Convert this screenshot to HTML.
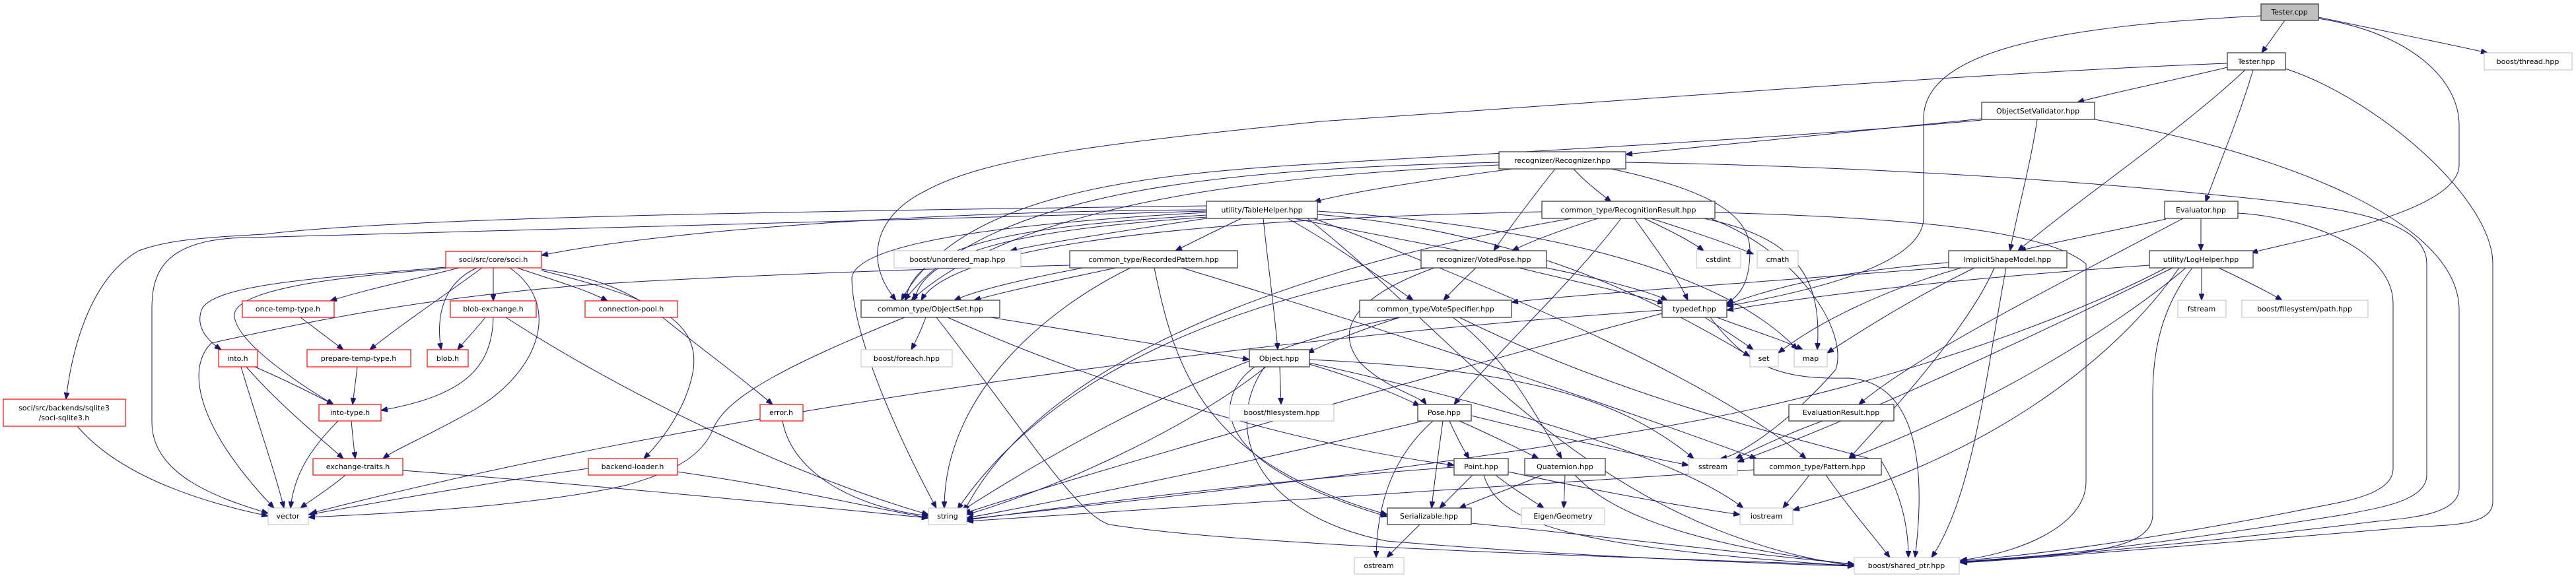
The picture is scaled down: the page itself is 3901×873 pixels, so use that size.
<!DOCTYPE html>
<html><head><meta charset="utf-8"><style>
html,body{margin:0;padding:0;background:#fff;}
svg{display:block;}
text{font-family:"DejaVu Sans","Liberation Sans",sans-serif;font-size:11px;fill:#000;text-anchor:middle;}
.e{fill:none;stroke:#191970;stroke-width:1;marker-end:url(#a);}
.k{fill:#fff;stroke:#404040;stroke-width:1.3;}
.r{fill:#fff;stroke:#ff0000;stroke-width:1.2;}
.g{fill:#fff;stroke:#bfbfbf;stroke-width:1;}
</style></head><body>
<svg width="3901" height="873" viewBox="0 0 3901 873" xmlns="http://www.w3.org/2000/svg">
<defs><marker id="a" markerUnits="userSpaceOnUse" markerWidth="11" markerHeight="8" refX="10" refY="4" orient="auto"><path d="M0,0 L10,4 L0,8 z" fill="#191970" stroke="#191970"/></marker></defs>
<g>
<path class="e" d="M3460,31 L3425,80"/>
<path class="e" d="M3511,26 C3600,45 3700,65 3767,80"/>
<path class="e" d="M3424,24 C3100,40 2913,80 2913,180 L2913,330 C2913,400 2750,440 2615,464"/>
<path class="e" d="M3511,28 C3650,50 3724,120 3724,190 L3724,250 C3724,320 3500,360 3409,383"/>
<path class="e" d="M3373,96 C3000,110 2500,150 2000,184 C1700,215 1500,235 1400,290 C1320,330 1310,400 1357,455"/>
<path class="e" d="M3373,102 C3300,120 3200,140 3146,155"/>
<path class="e" d="M3400,106 C3300,200 3150,300 3056,380"/>
<path class="e" d="M3412,106 C3390,180 3360,250 3340,306"/>
<path class="e" d="M3461,104 C3600,150 3775,300 3775,400 L3775,760 C3775,800 3700,795 3640,800 C3400,820 3100,845 2969,853"/>
<path class="e" d="M3172,181 C3400,220 3724,320 3724,470 L3724,740 C3724,780 3650,785 3600,790 C3400,815 3100,845 2969,852"/>
<path class="e" d="M2462,246 C2700,250 3000,262 3300,290 C3500,310 3675,320 3675,400 L3675,720 C3675,760 3600,770 3550,780 C3300,820 3100,845 2969,851"/>
<path class="e" d="M3389,323 C3500,330 3624,380 3624,460 L3624,710 C3624,750 3550,760 3500,770 C3300,810 3100,840 2969,850"/>
<path class="e" d="M3001,180 C2800,200 2600,220 2462,234"/>
<path class="e" d="M3001,182 C2700,210 2300,230 2000,248 C1700,265 1450,300 1365,455"/>
<path class="e" d="M3085,181 C3075,250 3055,320 3044,380"/>
<path class="e" d="M3280,332 C3200,350 3120,365 3058,380"/>
<path class="e" d="M3333,331 L3333,380"/>
<path class="e" d="M3306,331 C3100,440 2900,540 2815,613"/>
<path class="e" d="M2290,256 C2150,275 2050,290 1990,306"/>
<path class="e" d="M2270,246 C1900,255 1500,280 1370,455"/>
<path class="e" d="M2270,250 C1950,265 1550,300 1380,455"/>
<path class="e" d="M2383,256 C2400,275 2420,290 2440,306"/>
<path class="e" d="M2355,256 C2320,300 2290,340 2262,380"/>
<path class="e" d="M2440,256 C2600,290 2650,330 2650,380 C2650,420 2640,445 2615,460"/>
<path class="e" d="M1827,318 C1400,320 1000,350 820,387"/>
<path class="e" d="M1827,312 C1200,320 600,330 400,355 C300,360 250,365 210,380 C140,420 110,520 100,605"/>
<path class="e" d="M1827,320 C1200,340 700,355 380,360 C240,360 230,420 230,470 L230,640 C230,720 330,755 406,778"/>
<path class="e" d="M1827,322 C1500,340 1300,370 1290,420 C1290,520 1380,700 1418,770"/>
<path class="e" d="M1827,326 C1600,340 1380,360 1372,455"/>
<path class="e" d="M1827,329 C1600,345 1400,370 1385,455"/>
<path class="e" d="M1880,331 C1840,350 1810,365 1780,380"/>
<path class="e" d="M1827,331 C1700,350 1600,365 1530,380"/>
<path class="e" d="M1913,331 C1920,400 1930,470 1935,530"/>
<path class="e" d="M1950,331 C2020,370 2090,420 2140,455"/>
<path class="e" d="M1960,331 C2200,380 2450,420 2525,455"/>
<path class="e" d="M1995,325 C2300,350 2500,450 2650,540"/>
<path class="e" d="M1995,320 C2300,340 2600,400 2722,530"/>
<path class="e" d="M1980,331 C2200,500 2400,800 2808,858"/>
<path class="e" d="M1990,331 C2300,450 2600,580 2735,695"/>
<path class="e" d="M2335,321 C1900,330 1450,360 1395,455"/>
<path class="e" d="M2420,331 C2360,350 2320,365 2290,380"/>
<path class="e" d="M2490,331 C2530,350 2560,365 2580,380"/>
<path class="e" d="M2500,331 C2560,350 2620,370 2655,385"/>
<path class="e" d="M2475,331 C2510,380 2540,420 2556,455"/>
<path class="e" d="M2580,331 C2720,360 2760,420 2752,530"/>
<path class="e" d="M2590,331 C2720,380 2800,500 2780,560 C2720,630 2640,690 2605,695"/>
<path class="e" d="M2597,322 C2900,330 3100,350 3159,400 L3159,730 C3159,800 3050,840 2969,849"/>
<path class="e" d="M2455,331 C2380,430 2260,540 2202,613"/>
<path class="e" d="M2380,331 C2100,380 1600,500 1460,775"/>
<path class="e" d="M2235,406 C2215,425 2200,440 2186,455"/>
<path class="e" d="M2300,406 C2400,430 2470,445 2520,460"/>
<path class="e" d="M2172,406 C2050,450 2020,500 2060,550 C2100,590 2150,600 2160,613"/>
<path class="e" d="M2160,406 C1900,450 1600,550 1450,772"/>
<path class="e" d="M2120,481 C2060,500 2010,520 1980,535"/>
<path class="e" d="M2200,481 C2280,540 2320,620 2365,695"/>
<path class="e" d="M2120,481 C1900,520 1650,650 1455,775"/>
<path class="e" d="M2210,481 C2450,600 2700,660 2850,700 C2880,750 2890,800 2890,845"/>
<path class="e" d="M2590,481 C2650,560 2700,575 2800,573 C2900,580 2918,700 2900,845"/>
<path class="e" d="M1402,481 C1395,500 1388,515 1380,530"/>
<path class="e" d="M1500,481 C1650,505 1800,530 1892,545"/>
<path class="e" d="M1418,481 C1550,650 1630,780 1680,795 C1900,830 2500,845 2808,857"/>
<path class="e" d="M1370,481 C1200,550 1100,600 1080,650 C1060,700 1000,720 950,735 C800,770 550,780 467,784"/>
<path class="e" d="M1435,481 C1700,600 2000,680 2202,705"/>
<path class="e" d="M1690,406 C1600,425 1530,440 1475,455"/>
<path class="e" d="M1640,406 C1540,425 1480,440 1445,455"/>
<path class="e" d="M1620,402 C1300,410 1100,420 1000,425 C700,440 500,480 320,520 C280,560 300,650 415,770"/>
<path class="e" d="M1712,406 C1580,470 1430,600 1430,770"/>
<path class="e" d="M1748,406 C1780,560 1820,700 2101,780"/>
<path class="e" d="M1790,406 C2100,500 2400,600 2660,695"/>
<path class="e" d="M695,406 C620,425 550,440 500,456"/>
<path class="e" d="M747,406 L747,456"/>
<path class="e" d="M783,406 C840,425 890,440 920,456"/>
<path class="e" d="M675,405 C500,420 320,430 305,470 C295,500 320,520 335,530"/>
<path class="e" d="M730,406 C670,450 610,490 560,530"/>
<path class="e" d="M722,406 C670,430 660,480 668,530"/>
<path class="e" d="M675,407 C500,420 350,440 355,480 C360,520 450,580 505,613"/>
<path class="e" d="M772,406 C850,460 820,560 720,620 C650,660 600,680 580,695"/>
<path class="e" d="M820,408 C900,420 950,440 990,470 C1050,520 1120,570 1170,613"/>
<path class="e" d="M820,410 C980,450 1060,480 1050,560 C1040,620 1000,670 975,695"/>
<path class="e" d="M455,481 C480,500 500,515 520,530"/>
<path class="e" d="M735,481 C720,500 705,515 693,530"/>
<path class="e" d="M747,481 C745,560 700,600 577,622"/>
<path class="e" d="M766,481 C950,600 1200,720 1406,780"/>
<path class="e" d="M541,556 C539,575 536,595 534,613"/>
<path class="e" d="M386,556 C430,575 470,595 505,613"/>
<path class="e" d="M373,556 C420,610 480,660 520,695"/>
<path class="e" d="M365,556 C390,640 415,710 430,770"/>
<path class="e" d="M532,638 C534,660 536,680 538,695"/>
<path class="e" d="M512,638 C470,680 445,720 440,770"/>
<path class="e" d="M523,720 C500,740 475,755 455,770"/>
<path class="e" d="M610,713 C900,735 1200,765 1406,785"/>
<path class="e" d="M891,710 C750,730 580,760 467,780"/>
<path class="e" d="M1026,715 C1200,740 1320,770 1406,785"/>
<path class="e" d="M1185,638 C1200,720 1300,770 1406,782"/>
<path class="e" d="M117,646 C180,720 300,760 406,782"/>
<path class="e" d="M1938,556 L1940,613"/>
<path class="e" d="M1983,552 C2060,575 2110,595 2150,615"/>
<path class="e" d="M1900,556 C1840,600 1820,700 2101,783"/>
<path class="e" d="M1917,556 C1800,650 1600,740 1464,780"/>
<path class="e" d="M1983,545 C2300,560 2450,600 2565,695"/>
<path class="e" d="M1983,550 C2300,620 2550,700 2640,770"/>
<path class="e" d="M1915,556 C1850,650 1900,780 2100,820 C2400,845 2700,855 2808,858"/>
<path class="e" d="M2195,638 C2205,660 2215,680 2225,695"/>
<path class="e" d="M2210,638 C2260,660 2300,680 2330,695"/>
<path class="e" d="M2185,638 C2178,690 2172,730 2168,770"/>
<path class="e" d="M2228,630 C2350,660 2480,690 2557,705"/>
<path class="e" d="M2155,638 C1900,700 1600,760 1464,785"/>
<path class="e" d="M2170,638 C2100,700 2085,780 2084,845"/>
<path class="e" d="M2230,720 C2210,740 2195,755 2180,770"/>
<path class="e" d="M2265,720 C2290,740 2315,755 2338,770"/>
<path class="e" d="M2284,715 C2400,740 2530,765 2635,780"/>
<path class="e" d="M2247,720 C2270,800 2400,830 2808,858"/>
<path class="e" d="M2202,708 C1900,730 1600,770 1464,788"/>
<path class="e" d="M2335,720 C2290,740 2245,755 2210,770"/>
<path class="e" d="M2370,720 L2368,770"/>
<path class="e" d="M2385,720 C2450,790 2600,830 2808,856"/>
<path class="e" d="M2150,795 C2130,815 2115,830 2100,845"/>
<path class="e" d="M2228,793 C2450,815 2650,840 2808,855"/>
<path class="e" d="M2740,720 C2725,740 2712,755 2700,770"/>
<path class="e" d="M2765,720 C2800,770 2835,810 2862,845"/>
<path class="e" d="M2656,712 C2200,740 1800,770 1464,790"/>
<path class="e" d="M2760,638 C2700,660 2660,680 2628,695"/>
<path class="e" d="M2582,481 C2610,500 2635,515 2655,530"/>
<path class="e" d="M2600,481 C2650,500 2700,515 2730,530"/>
<path class="e" d="M2517,475 C2200,560 1700,700 1460,778"/>
<path class="e" d="M2517,470 C1800,520 1000,640 470,778"/>
<path class="e" d="M2951,398 C2800,410 2700,430 2615,462"/>
<path class="e" d="M2951,405 C2700,425 2400,445 2289,458"/>
<path class="e" d="M2970,406 C2850,440 2750,490 2693,535"/>
<path class="e" d="M2990,406 C2900,450 2820,500 2767,535"/>
<path class="e" d="M3020,406 C2980,500 2850,640 2800,695"/>
<path class="e" d="M3038,406 C3010,550 2990,750 2925,845"/>
<path class="e" d="M3334,406 L3334,455"/>
<path class="e" d="M3360,406 C3400,425 3430,440 3456,455"/>
<path class="e" d="M3255,402 C3000,420 2800,440 2615,470"/>
<path class="e" d="M3300,406 C3200,550 3000,700 2715,773"/>
<path class="e" d="M3290,406 C3100,500 2800,640 2631,700"/>
<path class="e" d="M3280,406 C3100,500 2800,600 2500,650 C2100,720 1700,760 1464,787"/>
<path class="e" d="M3320,406 C3270,470 3260,540 3260,600 L3260,780 C3260,820 3200,830 3150,838 C3050,845 2990,850 2969,852"/>
<path class="e" d="M3310,406 C3200,500 3000,620 2800,695"/>
</g>
<g>
<rect x="3424" y="6" width="87" height="25" fill="#bfbfbf" stroke="#404040" stroke-width="1.3"/><text x="3467" y="22">Tester.cpp</text>
<rect class="k" x="3373" y="80" width="88" height="26"/><text x="3417" y="97">Tester.hpp</text>
<rect class="g" x="3762" y="80" width="133" height="26"/><text x="3828" y="97">boost/thread.hpp</text>
<rect class="k" x="3001" y="155" width="171" height="26"/><text x="3086" y="172">ObjectSetValidator.hpp</text>
<rect class="k" x="2270" y="230" width="192" height="26"/><text x="2366" y="247">recognizer/Recognizer.hpp</text>
<rect class="k" x="1827" y="305" width="168" height="26"/><text x="1911" y="322">utility/TableHelper.hpp</text>
<rect class="k" x="2335" y="305" width="262" height="26"/><text x="2466" y="322">common_type/RecognitionResult.hpp</text>
<rect class="k" x="3278" y="305" width="111" height="26"/><text x="3333" y="322">Evaluator.hpp</text>
<rect class="r" x="675" y="381" width="145" height="25"/><text x="747" y="397">soci/src/core/soci.h</text>
<rect class="g" x="1354" y="380" width="192" height="26"/><text x="1450" y="397">boost/unordered_map.hpp</text>
<rect class="k" x="1620" y="380" width="254" height="26"/><text x="1747" y="397">common_type/RecordedPattern.hpp</text>
<rect class="k" x="2152" y="380" width="190" height="26"/><text x="2247" y="397">recognizer/VotedPose.hpp</text>
<rect class="g" x="2569" y="380" width="67" height="26"/><text x="2602" y="397">cstdint</text>
<rect class="g" x="2661" y="380" width="62" height="26"/><text x="2692" y="397">cmath</text>
<rect class="k" x="2951" y="380" width="179" height="26"/><text x="3040" y="397">ImplicitShapeModel.hpp</text>
<rect class="k" x="3255" y="380" width="157" height="26"/><text x="3333" y="397">utility/LogHelper.hpp</text>
<rect class="r" x="367" y="456" width="139" height="25"/><text x="436" y="472">once-temp-type.h</text>
<rect class="r" x="682" y="456" width="130" height="25"/><text x="747" y="472">blob-exchange.h</text>
<rect class="r" x="886" y="456" width="140" height="25"/><text x="956" y="472">connection-pool.h</text>
<rect class="k" x="1304" y="455" width="210" height="26"/><text x="1409" y="472">common_type/ObjectSet.hpp</text>
<rect class="k" x="2059" y="455" width="230" height="26"/><text x="2174" y="472">common_type/VoteSpecifier.hpp</text>
<rect class="k" x="2517" y="455" width="98" height="26"/><text x="2566" y="472">typedef.hpp</text>
<rect class="g" x="3298" y="455" width="73" height="26"/><text x="3334" y="472">fstream</text>
<rect class="g" x="3395" y="455" width="191" height="26"/><text x="3490" y="472">boost/filesystem/path.hpp</text>
<rect class="r" x="331" y="530" width="59" height="26"/><text x="360" y="547">into.h</text>
<rect class="r" x="465" y="530" width="157" height="26"/><text x="543" y="547">prepare-temp-type.h</text>
<rect class="r" x="647" y="530" width="62" height="26"/><text x="678" y="547">blob.h</text>
<rect class="g" x="1304" y="530" width="138" height="26"/><text x="1373" y="547">boost/foreach.hpp</text>
<rect class="k" x="1892" y="530" width="91" height="26"/><text x="1937" y="547">Object.hpp</text>
<rect class="g" x="2650" y="530" width="43" height="26"/><text x="2671" y="547">set</text>
<rect class="g" x="2717" y="530" width="50" height="26"/><text x="2742" y="547">map</text>
<rect class="r" x="5" y="605" width="185" height="41"/><text x="97" y="622">soci/src/backends/sqlite3</text><text x="97" y="637">/soci-sqlite3.h</text>
<rect class="r" x="483" y="613" width="94" height="25"/><text x="530" y="629">into-type.h</text>
<rect class="r" x="1151" y="613" width="65" height="25"/><text x="1183" y="629">error.h</text>
<rect class="g" x="1862" y="613" width="158" height="25"/><text x="1941" y="629">boost/filesystem.hpp</text>
<rect class="k" x="2147" y="613" width="81" height="25"/><text x="2187" y="629">Pose.hpp</text>
<rect class="k" x="2709" y="613" width="159" height="25"/><text x="2788" y="629">EvaluationResult.hpp</text>
<rect class="r" x="474" y="695" width="136" height="25"/><text x="542" y="711">exchange-traits.h</text>
<rect class="r" x="891" y="695" width="135" height="25"/><text x="958" y="711">backend-loader.h</text>
<rect class="k" x="2202" y="695" width="82" height="25"/><text x="2243" y="711">Point.hpp</text>
<rect class="k" x="2309" y="695" width="122" height="25"/><text x="2370" y="711">Quaternion.hpp</text>
<rect class="g" x="2557" y="695" width="74" height="25"/><text x="2594" y="711">sstream</text>
<rect class="k" x="2656" y="695" width="193" height="25"/><text x="2752" y="711">common_type/Pattern.hpp</text>
<rect class="g" x="406" y="770" width="61" height="25"/><text x="436" y="786">vector</text>
<rect class="g" x="1406" y="770" width="58" height="25"/><text x="1435" y="786">string</text>
<rect class="k" x="2101" y="770" width="127" height="25"/><text x="2164" y="786">Serializable.hpp</text>
<rect class="g" x="2304" y="770" width="126" height="25"/><text x="2367" y="786">Eigen/Geometry</text>
<rect class="g" x="2635" y="770" width="80" height="25"/><text x="2675" y="786">iostream</text>
<rect class="g" x="2051" y="845" width="75" height="25"/><text x="2088" y="861">ostream</text>
<rect class="g" x="2808" y="845" width="159" height="25"/><text x="2887" y="861">boost/shared_ptr.hpp</text>
</g>
</svg>
</body></html>
